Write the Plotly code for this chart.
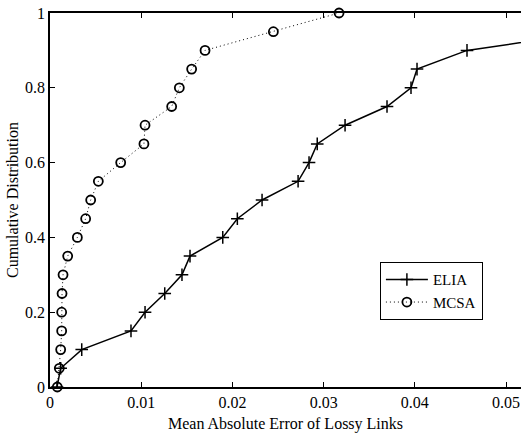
import plotly.graph_objects as go

cdf_levels = [0, 0.05, 0.1, 0.15, 0.2, 0.25, 0.3, 0.35, 0.4, 0.45, 0.5,
              0.55, 0.6, 0.65, 0.7, 0.75, 0.8, 0.85, 0.9, 0.95, 1.0]

elia_err = [0.00077, 0.00117, 0.00348, 0.00888, 0.01042, 0.01258, 0.01447,
            0.01535, 0.01894, 0.02054, 0.02325, 0.0272, 0.0284, 0.0293,
            0.03235, 0.03695, 0.03958, 0.04024, 0.04572, 0.0598]
elia_cdf = cdf_levels[:20]

mcsa_err = [0.0008, 0.00102, 0.00117, 0.00128, 0.00128, 0.00132, 0.00143,
            0.00194, 0.0030, 0.00391, 0.00446, 0.0053, 0.00775, 0.0103,
            0.01042, 0.01334, 0.01418, 0.01553, 0.0170, 0.02449, 0.03169]
mcsa_cdf = cdf_levels

x_ticks = [0, 0.01, 0.02, 0.03, 0.04, 0.05]
y_ticks = [0, 0.2, 0.4, 0.6, 0.8, 1]

FONT = "Liberation Serif"

fig = go.Figure()
fig.add_trace(go.Scatter(
    x=elia_err, y=elia_cdf, name="ELIA", mode="lines+markers",
    line=dict(color="black", width=1.5),
    marker=dict(symbol="cross-thin", size=9, line=dict(color="black", width=1.5)),
    cliponaxis=True,
))
fig.add_trace(go.Scatter(
    x=mcsa_err, y=mcsa_cdf, name="MCSA", mode="lines+markers",
    line=dict(color="black", width=1, dash="1px,3px"),
    marker=dict(symbol="circle-open", size=9, color="black", line=dict(color="black", width=1.8)),
    cliponaxis=False,
))

fig.update_layout(
    width=521, height=438,
    margin=dict(l=50, r=0, t=13, b=51),
    paper_bgcolor="white", plot_bgcolor="white",
    font=dict(family=FONT, size=16, color="black"),
    showlegend=True,
    legend=dict(x=0.70, y=0.334, xanchor="left", yanchor="top",
                bordercolor="black", borderwidth=1.2, bgcolor="white",
                font=dict(family=FONT, size=15), tracegroupgap=0,
                itemwidth=42),
)
fig.update_xaxes(
    range=[0, 0.05164], tickvals=x_ticks, ticktext=[str(v) for v in x_ticks],
    showgrid=False, zeroline=False, showline=True, linecolor="black", linewidth=1.5,
    mirror="ticks", ticks="inside", ticklen=5, tickcolor="black", automargin=False,
    title=dict(text="Mean Absolute Error of Lossy Links", font=dict(family=FONT, size=16), standoff=8),
    tickfont=dict(family=FONT, size=16),
)
fig.update_yaxes(
    range=[0, 1], tickvals=y_ticks, ticktext=[str(v) for v in y_ticks],
    showgrid=False, zeroline=False, showline=True, linecolor="black", linewidth=1.5,
    ticks="inside", ticklen=5, tickcolor="black", automargin=False,
    title=dict(text="Cumulative Distribution", font=dict(family=FONT, size=16), standoff=2),
    tickfont=dict(family=FONT, size=16),
)

fig.write_html("out.html", config={"displayModeBar": False},
               post_script="document.body.style.margin='0';document.body.style.overflow='hidden';")
